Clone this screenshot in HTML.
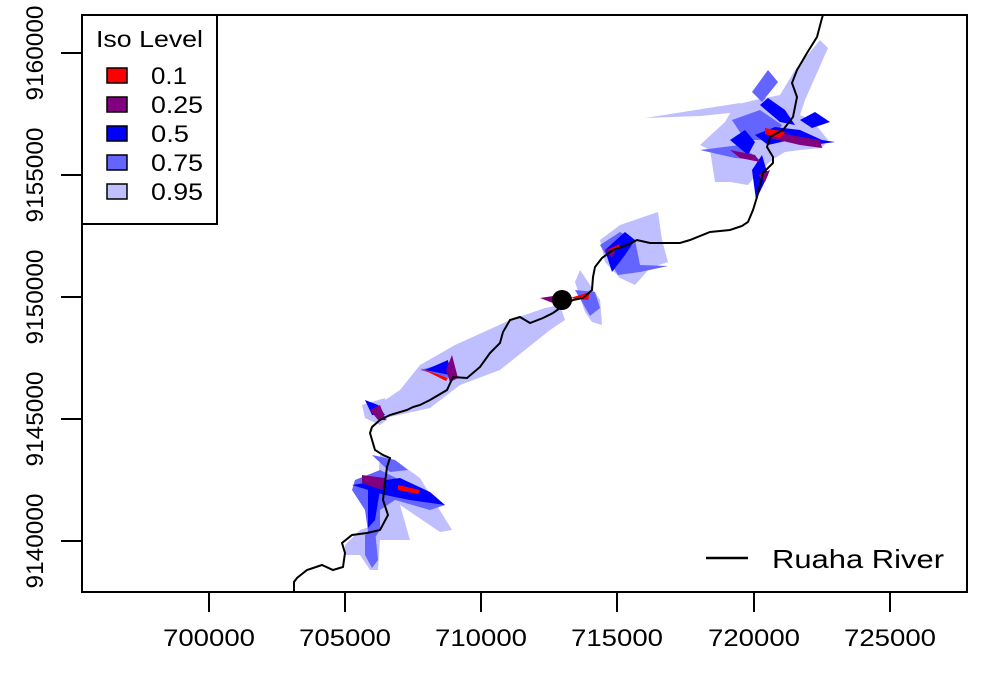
<!DOCTYPE html>
<html><head><style>body{margin:0;background:#fff}</style></head><body>
<svg width="983" height="674" xmlns="http://www.w3.org/2000/svg" font-family="Liberation Sans, Arial, sans-serif">
<rect width="983" height="674" fill="#fff"/>
<g fill="#bfbfff">
<polygon points="385,400 385,418 430,408 460,385 500,370 550,330 565,320 560,305 545,308 510,320 455,345 420,365 400,390"/>
<polygon points="575,282 580,270 590,285 600,300 602,325 592,322 585,312"/>
<polygon points="600,240 620,225 658,212 662,240 668,262 650,268 635,285 620,278 605,262"/>
<polygon points="715,182 710,150 700,145 725,122 735,105 755,100 780,95 795,70 820,40 828,48 805,100 800,115 812,120 828,140 822,148 800,150 785,152 775,158 760,170 748,185 730,182"/>
<polygon points="645,118 740,103 760,110 700,116"/>
<polygon points="345,545 360,530 375,525 380,455 395,460 420,478 452,530 440,532 400,505 410,540 380,540 378,570 370,570 360,555 345,555"/>
<polygon points="362,405 385,398 387,420 380,425 365,418"/>
<polygon points="420,370 455,355 445,380 425,385"/>
</g>
<g fill="#6464ff">
<polygon points="752,92 768,70 778,82 762,102"/>
<polygon points="700,150 740,145 760,160 735,158"/>
<polygon points="732,120 760,110 782,125 770,140 745,140"/>
<polygon points="600,245 620,232 635,240 640,265 668,266 640,272 618,275 610,262"/>
<polygon points="575,290 595,292 600,308 590,316"/>
<polygon points="355,480 380,470 420,490 445,505 430,510 395,500 380,510 380,530 370,545 365,510 352,490"/>
<polygon points="365,535 375,530 378,560 372,568 365,555"/>
<polygon points="372,455 395,460 408,470 390,472"/>
<polygon points="420,370 450,362 450,378"/>
</g>
<g fill="#0000ff">
<polygon points="760,105 768,98 785,110 795,125 780,122"/>
<polygon points="755,135 775,127 800,130 822,140 835,142 812,145 790,140 768,145"/>
<polygon points="800,120 815,112 830,122 812,128"/>
<polygon points="730,140 745,130 755,142 748,155"/>
<polygon points="752,170 762,155 768,175 756,200"/>
<polygon points="605,250 625,232 635,240 625,255 612,272"/>
<polygon points="352,485 400,478 430,492 445,505 410,500 385,495"/>
<polygon points="368,490 380,490 375,520 368,528"/>
<polygon points="365,400 378,405 385,415 372,415"/>
<polygon points="425,370 448,360 450,375"/>
</g>
<g fill="#800080">
<polygon points="765,128 790,135 820,140 822,148 800,145 770,138"/>
<polygon points="730,150 755,155 760,162 740,158"/>
<polygon points="758,175 770,170 765,182"/>
<polygon points="362,475 385,478 382,490 362,483"/>
<polygon points="370,410 380,405 386,420 378,420"/>
<polygon points="452,355 458,378 450,382 446,370"/>
<polygon points="540,298 560,295 558,305"/>
<polygon points="605,250 618,245 612,258"/>
</g>
<g fill="#ff0000">
<polygon points="765,128 785,132 780,138 765,134"/>
<polygon points="398,485 420,490 418,494 398,490"/>
<polygon points="420,368 448,378 446,381"/>
<polygon points="570,298 590,292 588,300"/>
<polygon points="608,250 620,244 618,250"/>
</g>
<polyline fill="none" stroke="#000" stroke-width="2" points="294,592 294,582 297,578 307,570 322,565 333,570 343,567 345,553 342,543 352,535 367,533 380,530 388,515 383,500 385,483 387,467 390,458 383,455 375,450 370,433 372,427 380,420 390,415 407,410 413,407 420,405 430,400 447,390 453,377 467,378 480,367 490,353 500,343 503,332 510,320 520,317 530,323 543,318 553,313 560,308 573,300 583,298 592,290 593,277 595,267 602,258 613,250 627,245 637,240 650,243 680,243 690,240 710,232 730,230 742,226 748,222 753,210 757,197 763,173 773,163 773,157 767,147 770,137 783,130 793,117 797,97 792,83 797,70 807,53 817,37 822,18 823,15"/>
<circle cx="562" cy="300" r="10" fill="#000"/>
<rect x="82" y="15" width="885" height="577" fill="none" stroke="#000" stroke-width="2"/>
<g stroke="#000" stroke-width="2">
<line x1="209" y1="592" x2="209" y2="612"/><line x1="345" y1="592" x2="345" y2="612"/><line x1="481" y1="592" x2="481" y2="612"/><line x1="617" y1="592" x2="617" y2="612"/><line x1="754" y1="592" x2="754" y2="612"/><line x1="890" y1="592" x2="890" y2="612"/>
<line x1="61" y1="541" x2="82" y2="541"/><line x1="61" y1="419" x2="82" y2="419"/><line x1="61" y1="297" x2="82" y2="297"/><line x1="61" y1="175" x2="82" y2="175"/><line x1="61" y1="53" x2="82" y2="53"/>
</g>
<g font-size="24" text-anchor="middle" fill="#000" lengthAdjust="spacingAndGlyphs">
<text x="209" y="646" textLength="92" lengthAdjust="spacingAndGlyphs">700000</text>
<text x="345" y="646" textLength="92" lengthAdjust="spacingAndGlyphs">705000</text>
<text x="481" y="646" textLength="92" lengthAdjust="spacingAndGlyphs">710000</text>
<text x="617" y="646" textLength="92" lengthAdjust="spacingAndGlyphs">715000</text>
<text x="754" y="646" textLength="92" lengthAdjust="spacingAndGlyphs">720000</text>
<text x="890" y="646" textLength="92" lengthAdjust="spacingAndGlyphs">725000</text>
<text transform="translate(43,541) rotate(-90)" textLength="95" lengthAdjust="spacingAndGlyphs">9140000</text>
<text transform="translate(43,419) rotate(-90)" textLength="95" lengthAdjust="spacingAndGlyphs">9145000</text>
<text transform="translate(43,297) rotate(-90)" textLength="95" lengthAdjust="spacingAndGlyphs">9150000</text>
<text transform="translate(43,175) rotate(-90)" textLength="95" lengthAdjust="spacingAndGlyphs">9155000</text>
<text transform="translate(43,53) rotate(-90)" textLength="95" lengthAdjust="spacingAndGlyphs">9160000</text>
</g>
<rect x="82" y="15" width="135" height="209" fill="#fff" stroke="#000" stroke-width="2"/>
<text x="96" y="47" font-size="23" textLength="107" lengthAdjust="spacingAndGlyphs">Iso Level</text>
<g stroke="#000" stroke-width="1.5">
<rect x="107" y="68" width="20" height="15" fill="#ff0000"/>
<rect x="107" y="97" width="20" height="15" fill="#800080"/>
<rect x="107" y="126" width="20" height="15" fill="#0000ff"/>
<rect x="107" y="155" width="20" height="15" fill="#6464ff"/>
<rect x="107" y="184" width="20" height="15" fill="#c0c0ff"/>
</g>
<g font-size="24">
<text x="151" y="84" textLength="36" lengthAdjust="spacingAndGlyphs">0.1</text>
<text x="151" y="113" textLength="52" lengthAdjust="spacingAndGlyphs">0.25</text>
<text x="151" y="142" textLength="38" lengthAdjust="spacingAndGlyphs">0.5</text>
<text x="151" y="171" textLength="52" lengthAdjust="spacingAndGlyphs">0.75</text>
<text x="151" y="200" textLength="52" lengthAdjust="spacingAndGlyphs">0.95</text>
</g>
<line x1="706" y1="558" x2="748" y2="558" stroke="#000" stroke-width="2.5"/>
<text x="772" y="568" font-size="26" textLength="172" lengthAdjust="spacingAndGlyphs">Ruaha River</text>
</svg>
</body></html>
